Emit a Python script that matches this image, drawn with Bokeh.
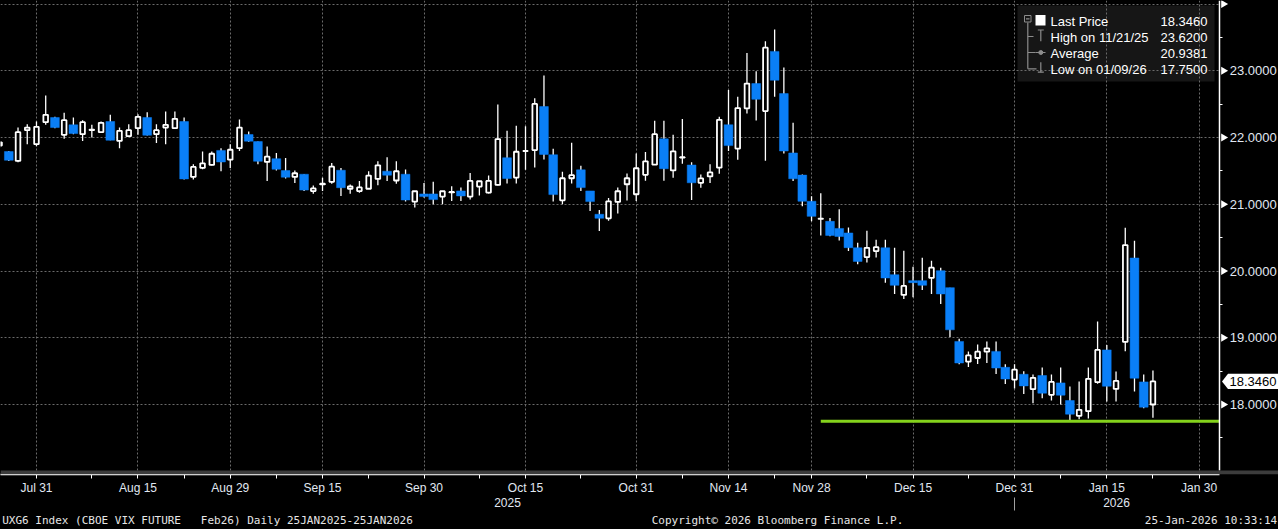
import math
from bokeh.plotting import figure
from bokeh.models import (ColumnDataSource, FixedTicker, LinearAxis, Range1d, Grid,
                          BoxAnnotation, GlobalInlineStyleSheet, NumeralTickFormatter)
from bokeh.core.properties import value
from bokeh.embed import file_html
from bokeh.resources import INLINE

# ---------------- data (trading-day index 0..125, late Jul 2025 .. Jan 23 2026) -------------
opens = [
    21.88, 21.79, 21.65, 22.11, 21.90, 22.23, 22.30, 22.04, 22.19, 22.05,
    22.11, 22.08, 22.24, 21.95, 22.02, 22.14, 22.30, 22.05, 22.15, 22.14,
    22.24, 21.41, 21.545, 21.59, 21.807, 21.668, 21.84, 22.045, 21.94, 21.634,
    21.683, 21.505, 21.41, 21.45, 21.198, 21.30, 21.337, 21.51, 21.233, 21.198,
    21.233, 21.38, 21.495, 21.356, 21.45, 21.04, 21.155, 21.155, 21.115, 21.18,
    21.20, 21.115, 21.265, 21.175, 21.29, 21.697, 21.40, 21.797, 21.812, 22.464,
    21.742, 21.06, 21.39, 21.516, 21.20, 20.85, 20.79, 21.035, 21.30, 21.15,
    21.442, 21.593, 21.98, 21.508, 21.70, 21.588, 21.322, 21.417, 21.548, 22.191,
    21.834, 22.437, 22.809, 22.397, 23.291, 22.658, 21.769, 21.437, 21.045, 20.78,
    20.744, 20.638, 20.57, 20.348, 20.209, 20.299, 20.348, 19.945, 19.642, 19.856,
    19.856, 19.896, 20.005, 19.751, 18.945, 18.642, 18.697, 18.791, 18.796, 18.557,
    18.373, 18.453, 18.229, 18.434, 18.145, 18.324, 18.06, 17.83, 17.90, 18.334,
    18.818, 18.234, 18.938, 20.195, 18.339, 18.00,
]
highs = [
    21.95, 21.80, 22.15, 22.20, 22.24, 22.63, 22.31, 22.37, 22.30, 22.26,
    22.19, 22.24, 22.34, 22.15, 22.20, 22.35, 22.38, 22.20, 22.39, 22.39,
    22.30, 21.60, 21.79, 21.79, 21.84, 21.90, 22.27, 22.09, 21.94, 21.866,
    21.767, 21.693, 21.505, 21.45, 21.282, 21.396, 21.619, 21.545, 21.297, 21.347,
    21.495, 21.644, 21.703, 21.644, 21.52, 21.198, 21.32, 21.336, 21.195, 21.27,
    21.25, 21.47, 21.35, 21.43, 22.494, 22.10, 22.178, 22.168, 22.589, 22.93,
    21.832, 21.486, 21.922, 21.576, 21.20, 20.915, 21.095, 21.25, 21.46, 21.76,
    21.784, 22.251, 22.251, 22.04, 22.276, 21.628, 21.447, 21.598, 22.312, 22.714,
    22.613, 23.266, 22.995, 23.442, 23.62, 23.05, 22.221, 21.447, 21.121, 21.166,
    20.794, 20.925, 20.652, 20.423, 20.602, 20.468, 20.468, 20.348, 20.303, 20.065,
    20.199, 20.154, 20.05, 19.751, 18.985, 18.796, 18.90, 18.945, 18.945, 18.602,
    18.602, 18.498, 18.449, 18.554, 18.449, 18.554, 18.27, 18.344, 18.554, 19.242,
    18.893, 18.494, 20.648, 20.454, 18.449, 18.51,
]
lows = [
    21.85, 21.65, 21.63, 21.90, 21.87, 22.19, 22.14, 21.98, 22.05, 21.95,
    22.00, 22.07, 21.96, 21.84, 22.02, 22.04, 22.03, 21.92, 21.90, 22.13,
    21.37, 21.37, 21.525, 21.58, 21.495, 21.545, 21.80, 21.936, 21.60, 21.347,
    21.505, 21.386, 21.32, 21.198, 21.158, 21.198, 21.307, 21.124, 21.158, 21.173,
    21.23, 21.287, 21.347, 21.307, 21.04, 20.95, 21.10, 21.00, 21.00, 21.05,
    21.05, 21.07, 21.13, 21.16, 21.28, 21.31, 21.31, 21.516, 21.551, 21.67,
    21.04, 21.00, 21.31, 21.20, 20.90, 20.60, 20.755, 20.86, 21.055, 21.05,
    21.352, 21.59, 21.352, 21.397, 21.608, 21.065, 21.246, 21.317, 21.457, 21.799,
    21.668, 22.362, 22.256, 21.653, 22.613, 21.759, 21.347, 20.97, 20.744, 20.533,
    20.52, 20.457, 20.30, 20.10, 20.129, 20.204, 19.826, 19.657, 19.582, 19.607,
    19.716, 19.657, 19.507, 19.01, 18.602, 18.562, 18.607, 18.622, 18.458, 18.308,
    18.239, 18.159, 18.02, 18.095, 18.06, 18.00, 17.75, 17.78, 17.79, 18.31,
    18.045, 18.045, 18.798, 18.195, 17.945, 17.80,
]
closes = [
    21.926, 21.66, 22.08, 22.15, 22.16, 22.34, 22.15, 22.26, 22.06, 22.23,
    22.12, 22.22, 21.96, 22.10, 22.11, 22.31, 22.035, 22.11, 22.19, 22.28,
    21.38, 21.56, 21.614, 21.757, 21.634, 21.817, 22.15, 21.946, 21.644, 21.713,
    21.525, 21.406, 21.465, 21.213, 21.238, 21.31, 21.564, 21.248, 21.267, 21.252,
    21.43, 21.584, 21.436, 21.495, 21.064, 21.195, 21.115, 21.07, 21.195, 21.185,
    21.125, 21.35, 21.345, 21.35, 21.977, 21.386, 21.787, 21.80, 22.504, 21.747,
    21.145, 21.39, 21.436, 21.25, 21.04, 20.79, 21.045, 21.195, 21.39, 21.54,
    21.643, 22.05, 21.533, 21.794, 21.705, 21.322, 21.387, 21.477, 22.266, 21.879,
    22.442, 22.809, 22.573, 23.347, 22.859, 21.799, 21.382, 21.045, 20.819, 20.785,
    20.533, 20.518, 20.35, 20.144, 20.348, 20.358, 19.896, 19.786, 19.776, 19.826,
    19.786, 20.05, 19.657, 19.119, 18.622, 18.736, 18.791, 18.841, 18.547, 18.383,
    18.522, 18.279, 18.399, 18.17, 18.339, 18.14, 17.855, 17.92, 18.384, 18.818,
    18.274, 18.354, 20.389, 18.394, 17.96, 18.346,
]

date_tick_pos = [4, 15, 25, 35, 46, 57, 69, 79, 88, 99, 110, 120, 130]
date_tick_labels = ["Jul 31", "Aug 15", "Aug 29", "Sep 15", "Sep 30", "Oct 15", "Oct 31",
                    "Nov 14", "Nov 28", "Dec 15", "Dec 31", "Jan 15", "Jan 30"]
date_minor_pos = [10, 20, 30, 40, 52, 63, 74, 84, 94, 105, 115, 125]
year_labels = ["2025", "2026"]
year_boundary = [110]
price_ticks = [18, 19, 20, 21, 22, 23, 24]
price_minor = [17.5, 18.5, 19.5, 20.5, 21.5, 22.5, 23.5]

legend_labels = ["Last Price", "High on 11/21/25", "Average", "Low on 01/09/26"]
legend_values = [18.3460, 23.6200, 20.9381, 17.7500]
last_price = 18.346
low_level = 17.75
low_line_start = 89

footer_texts = ["UXG6 Index (CBOE VIX FUTURE \u00a0\u00a0Feb26) Daily 25JAN2025-25JAN2026",
                "Copyright\u00a9 2026 Bloomberg Finance L.P.",
                "25-Jan-2026 10:33:14"]

# ---------------- geometry / style ----------------
W, H = 1278, 529
FRAME_H = 474
PX_PER_DAY = 9.227
X_START = 0.93 / PX_PER_DAY
X_END = X_START + W / PX_PER_DAY
Y_TOP, Y_BOT = 24.0533, 16.9512
BLUE = "#0a7ff7"
GRID = "#6a6a6a"
AXIS_TXT = "#e0e8f2"
FONT = "Liberation Sans"
MONO = "DejaVu Sans Mono"


def px_x(px):
    return X_START + px / PX_PER_DAY


def px_y(py):
    return Y_TOP - py * (Y_TOP - Y_BOT) / FRAME_H


def dpy(dpx):
    return dpx * (Y_TOP - Y_BOT) / FRAME_H


AXIS_X = px_x(1219.3)

idx = list(range(len(opens)))
up = [i for i in idx if closes[i] >= opens[i]]
dn = [i for i in idx if closes[i] < opens[i]]

src_all = ColumnDataSource(dict(x=idx, h=highs, l=lows))
src_up = ColumnDataSource(dict(x=up, o=[opens[i] for i in up], c=[closes[i] for i in up]))
src_dn = ColumnDataSource(dict(x=dn, o=[opens[i] for i in dn], c=[closes[i] for i in dn]))

p = figure(width=W, height=H, output_backend="svg", toolbar_location=None,
           x_range=Range1d(X_START, X_END), y_range=Range1d(Y_BOT, Y_TOP),
           x_axis_location=None, y_axis_location=None,
           min_border_left=0, min_border_top=0, min_border_right=0,
           min_border_bottom=H - FRAME_H,
           background_fill_color="black", border_fill_color="black",
           outline_line_color=None)
p.title.visible = False
p.center = []
p.stylesheets = [GlobalInlineStyleSheet(
    css="html,body{margin:0;padding:0;background:#000;overflow:hidden;}")]

# grids
p.add_layout(Grid(dimension=0, ticker=FixedTicker(ticks=date_tick_pos),
                  grid_line_color=GRID, grid_line_dash="2 2", grid_line_width=1))
p.add_layout(Grid(dimension=1, ticker=FixedTicker(ticks=price_ticks),
                  grid_line_color=GRID, grid_line_dash="2 2", grid_line_width=1))

# legend background (under the grid)
p.quad(left=[px_x(1017)], right=[px_x(1214)], top=[px_y(5)], bottom=[px_y(81)],
       fill_color="#161616", line_color=None, level="image")

# candles
p.segment(x0="x", y0="l", x1="x", y1="h", source=src_all, line_color="white", line_width=1.3)
p.vbar(x="x", width=0.95, top="o", bottom="c", source=src_dn,
       fill_color=BLUE, line_color=BLUE, line_width=0.5)
p.vbar(x="x", width=0.5, top="c", bottom="o", source=src_up,
       fill_color="black", line_color="white", line_width=1.8)

# low line
p.line(x=[low_line_start, AXIS_X], y=[low_level, low_level], line_color="#84d21c", line_width=3)

# price-scale area right of the axis: plain black
p.quad(left=[AXIS_X], right=[X_END], top=[Y_TOP], bottom=[Y_BOT],
       fill_color="black", line_color=None)

# tick arrows on the price scale
p.scatter(x=[px_x(1223)] * len(price_ticks), y=price_ticks, marker="triangle",
          angle=-math.pi / 2, size=8, fill_color="white", line_color=None)

# last price tag
tag_h = dpy(7.7)
p.patch(x=[px_x(1221.5), px_x(1227.5), px_x(1278), px_x(1278), px_x(1227.5)],
        y=[last_price, last_price + tag_h, last_price + tag_h, last_price - tag_h,
           last_price - tag_h],
        fill_color="white", line_color=None)
p.text(x=[px_x(1229)], y=[last_price], text=[f"{last_price:.4f}"], text_font=value(FONT),
       text_font_size="13px", text_color="black", text_baseline="middle", text_align="left")

# scroll band
p.add_layout(BoxAnnotation(left=X_START, right=X_END, top=px_y(470), bottom=Y_BOT,
                           fill_color="#3c3c3c", fill_alpha=1, line_color=None, level="overlay"))

# ---------------- legend contents ----------------
row_y = [px_y(20.5), px_y(36.5), px_y(52.5), px_y(68.5)]
p.text(x=[px_x(1050)] * 4, y=row_y, text=legend_labels, text_font=value(FONT),
       text_font_size="13px", text_color="white", text_baseline="middle", text_align="left")
p.text(x=[px_x(1207)] * 4, y=row_y, text=[f"{v:.4f}" for v in legend_values],
       text_font=value(FONT), text_font_size="13px", text_color="white",
       text_baseline="middle", text_align="right")
ICON = "#8c8c8c"
p.quad(left=[px_x(1035)], right=[px_x(1045)], top=[px_y(14.5)], bottom=[px_y(25)],
       fill_color="white", line_color=None)
p.quad(left=[px_x(1024)], right=[px_x(1030.5)], top=[px_y(15)], bottom=[px_y(21.5)],
       fill_color=None, line_color=ICON, line_width=1)
seg_x0 = [px_x(1025.5), px_x(1027.3), px_x(1027.3), px_x(1027.3), px_x(1027.3),
          px_x(1037.3), px_x(1040.3), px_x(1035), px_x(1040.3), px_x(1037.3)]
seg_x1 = [px_x(1029), px_x(1027.3), px_x(1033), px_x(1035), px_x(1036),
          px_x(1043.3), px_x(1040.3), px_x(1045), px_x(1040.3), px_x(1043.3)]
seg_y0 = [px_y(18.3), px_y(22), px_y(36), px_y(52), px_y(68.3),
          px_y(29.5), px_y(29.5), px_y(52), px_y(61.7), px_y(71.7)]
seg_y1 = [px_y(18.3), px_y(68.3), px_y(36), px_y(52), px_y(68.3),
          px_y(29.5), px_y(40.7), px_y(52), px_y(71.7), px_y(71.7)]
p.segment(x0=seg_x0, y0=seg_y0, x1=seg_x1, y1=seg_y1, line_color=ICON, line_width=1.2)
p.scatter(x=[px_x(1040.3)], y=[px_y(52)], size=4, marker="circle",
          fill_color=ICON, line_color=ICON)

# ---------------- axes ----------------
yaxis = LinearAxis(ticker=FixedTicker(ticks=price_ticks, minor_ticks=price_minor),
                   fixed_location=AXIS_X, bounds=(px_y(470), Y_TOP),
                   formatter=NumeralTickFormatter(format="0.0000"),
                   major_label_overrides={24: ""},
                   axis_line_color="white", axis_line_width=1.5,
                   major_tick_line_color=None,
                   major_tick_in=0, major_tick_out=8,
                   minor_tick_line_color="white", minor_tick_line_width=1,
                   minor_tick_in=0, minor_tick_out=3,
                   major_label_standoff=2, major_label_text_color=AXIS_TXT,
                   major_label_text_font=FONT, major_label_text_font_size="13px")
p.add_layout(yaxis, "right")

xaxis = LinearAxis(ticker=FixedTicker(ticks=date_tick_pos, minor_ticks=date_minor_pos),
                   bounds=(X_START, AXIS_X),
                   major_label_overrides={t: s for t, s in zip(date_tick_pos, date_tick_labels)},
                   axis_line_color="white", axis_line_width=1.5,
                   major_tick_line_color="white", major_tick_in=0, major_tick_out=4,
                   minor_tick_line_color="white", minor_tick_in=0, minor_tick_out=4,
                   major_label_standoff=2, major_label_text_color=AXIS_TXT,
                   major_label_text_font=FONT, major_label_text_font_size="12px")
p.add_layout(xaxis, "below")

year_pos = [px_x(507), px_x(1116)]
yaxis2 = LinearAxis(ticker=FixedTicker(ticks=year_pos, minor_ticks=year_boundary),
                    major_label_overrides={t: s for t, s in zip(year_pos, year_labels)},
                    axis_line_color=None, major_tick_line_color=None,
                    major_tick_in=0, major_tick_out=0,
                    minor_tick_line_color="#a0a0a0", minor_tick_line_width=1,
                    minor_tick_in=0, minor_tick_out=13,
                    major_label_standoff=-13, major_label_text_color=AXIS_TXT,
                    major_label_text_font=FONT, major_label_text_font_size="12px")
p.add_layout(yaxis2, "below")

footer_pos = [px_x(207), px_x(777), px_x(1210.5)]
faxis = LinearAxis(ticker=FixedTicker(ticks=footer_pos, minor_ticks=[]),
                   major_label_overrides={t: s for t, s in zip(footer_pos, footer_texts)},
                   axis_line_color=None, major_tick_line_color=None, minor_tick_line_color=None,
                   major_tick_in=0, major_tick_out=0,
                   major_label_standoff=4, major_label_text_color="#e6e6e6",
                   major_label_text_font=MONO, major_label_text_font_size="11px")
p.add_layout(faxis, "below")

open("out.html", "w").write(file_html(p, INLINE))
